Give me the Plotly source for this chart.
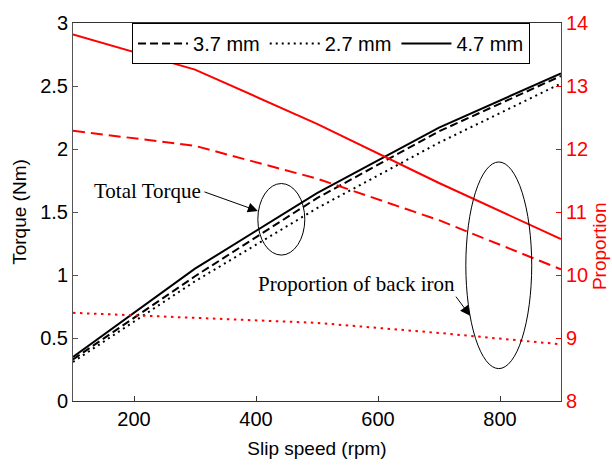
import plotly.graph_objects as go

# Slip speed sample points (rpm)
slip_speed = [100, 300, 500, 700, 900]

# Total torque (Nm) for each magnet thickness
torque_37 = [0.33, 0.99, 1.61, 2.14, 2.58]
torque_27 = [0.31, 0.95, 1.53, 2.05, 2.52]
torque_47 = [0.35, 1.05, 1.65, 2.17, 2.60]

# Proportion of back iron (%) for each magnet thickness
prop_37 = [12.29, 12.05, 11.53, 10.87, 10.09]
prop_27 = [9.40, 9.32, 9.24, 9.08, 8.90]
prop_47 = [13.82, 13.26, 12.40, 11.46, 10.57]

labels = ["3.7 mm", "2.7 mm", "4.7 mm"]

SANS = "Liberation Sans, Arial, sans-serif"
SERIF = "Liberation Serif, Times New Roman, serif"
RED = "#ff0000"

black_dash = {"3.7 mm": "8px,4px", "2.7 mm": "2px,4px", "4.7 mm": "solid"}
red_dash = {"3.7 mm": "12px,6px", "2.7 mm": "2.5px,4.5px", "4.7 mm": "solid"}

fig = go.Figure()

for name, vals in zip(labels, [torque_37, torque_27, torque_47]):
    fig.add_trace(go.Scatter(
        x=slip_speed, y=vals, mode="lines", name=name,
        line=dict(color="black", width=2, dash=black_dash[name]),
        yaxis="y",
    ))

for name, vals in zip(labels, [prop_37, prop_27, prop_47]):
    fig.add_trace(go.Scatter(
        x=slip_speed, y=vals, mode="lines", name=name, showlegend=False,
        line=dict(color=RED, width=2, dash=red_dash[name]),
        yaxis="y2",
    ))

# Ellipses grouping the curve families
fig.add_shape(type="circle", xref="x", yref="y",
              x0=403, x1=480, y0=1.158, y1=1.726,
              line=dict(color="black", width=1))
fig.add_shape(type="circle", xref="x", yref="y",
              x0=744, x1=852, y0=0.257, y1=1.897,
              line=dict(color="black", width=1))

# Text labels with arrows
fig.add_annotation(x=222, y=1.664, xref="x", yref="y", text="Total Torque",
                   showarrow=False, font=dict(family=SERIF, size=21, color="black"))
fig.add_annotation(x=403, y=1.508, ax=313, ay=1.664, xref="x", yref="y",
                   axref="x", ayref="y", text="", showarrow=True,
                   arrowhead=2, arrowsize=2, arrowwidth=1, arrowcolor="black")
fig.add_annotation(x=564, y=0.925, xref="x", yref="y", text="Proportion of back iron",
                   showarrow=False, font=dict(family=SERIF, size=21, color="black"))
fig.add_annotation(x=751, y=0.677, ax=726, ay=0.840, xref="x", yref="y",
                   axref="x", ayref="y", text="", showarrow=True,
                   arrowhead=2, arrowsize=2, arrowwidth=1, arrowcolor="black")

# Right-hand axis title
fig.add_annotation(x=1.078, y=0.41, xref="paper", yref="paper", text="Proportion",
                   textangle=-90, showarrow=False, xanchor="center", yanchor="middle",
                   font=dict(family=SANS, size=19, color=RED))

fig.update_layout(
    width=612, height=467,
    margin=dict(l=73, r=51, t=18, b=63),
    paper_bgcolor="white", plot_bgcolor="white",
    font=dict(family=SANS, size=20, color="black"),
    showlegend=True,
    legend=dict(
        orientation="h", x=0.121, y=1.0, xanchor="left", yanchor="top",
        bgcolor="white", bordercolor="black", borderwidth=1,
        font=dict(family=SANS, size=20, color="black"),
        itemwidth=50, tracegroupgap=0,
    ),
    xaxis=dict(
        range=[100, 900], tickvals=[200, 400, 600, 800],
        ticks="inside", ticklen=5, tickcolor="#333",
        showline=True, linecolor="#333", linewidth=1, mirror=True,
        showgrid=False, zeroline=False,
        title=dict(text="Slip speed (rpm)", font=dict(size=19), standoff=12),
        tickfont=dict(size=20),
    ),
    yaxis=dict(
        range=[0, 3], dtick=0.5,
        ticks="inside", ticklen=5, tickcolor="#555",
        showline=True, linecolor="#555", linewidth=1,
        showgrid=False, zeroline=False,
        title=dict(text="Torque (Nm)", font=dict(size=19), standoff=8),
        tickfont=dict(size=20),
    ),
    yaxis2=dict(
        range=[8, 14], dtick=1, overlaying="y", side="right",
        ticks="inside", ticklen=5, tickcolor=RED,
        showline=True, linecolor=RED, linewidth=1,
        showgrid=False, zeroline=False,
        tickfont=dict(size=20, color=RED),
    ),
)

fig.write_html("out.html")
